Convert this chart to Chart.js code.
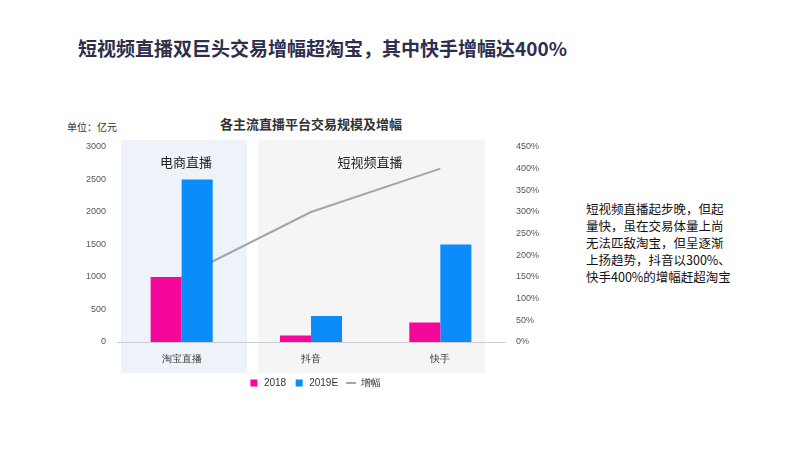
<!DOCTYPE html>
<html><head><meta charset="utf-8">
<script src="https://cdn.jsdelivr.net/npm/chart.js@4"></script>
<style>
body{margin:0;width:800px;height:450px;position:relative;font-family:"Noto Sans CJK SC",sans-serif;background:#fff;overflow:hidden}
#t{position:absolute;left:78px;top:34px;font-size:19px;font-weight:bold;color:#2e2e4d}
#unit{position:absolute;left:67px;top:119px;font-size:10px;color:#333}
#ct{position:absolute;left:220px;top:114px;font-size:13px;color:#333;font-weight:bold}
#note{position:absolute;left:586px;top:200px;width:146px;font-size:12.5px;line-height:17px;color:#111}
#w{position:absolute;left:0;top:0;width:800px;height:450px}
</style></head><body>
<div id="t">短视频直播双巨头交易增幅超淘宝，其中快手增幅达400%</div>
<div id="unit">单位：亿元</div>
<div id="ct">各主流直播平台交易规模及增幅</div>
<div id="note">短视频直播起步晚，但起量快，虽在交易体量上尚无法匹敌淘宝，但呈逐渐上扬趋势，抖音以300%、快手400%的增幅赶超淘宝</div>
<div id="w"><canvas id="c" width="800" height="450"></canvas></div>
<script>
const categories=["淘宝直播","抖音","快手"];
const v2018=[1000,100,300];
const v2019=[2500,400,1500];
const growth=[150,300,400];
const bg={id:'bg',beforeDraw(ch){const c=ch.ctx;
c.save();c.fillStyle='#eef3fa';c.fillRect(121,140,126,233);
c.fillStyle='#f5f5f5';c.fillRect(258,140,227,233);
c.fillStyle='#222';c.font='13px "Noto Sans CJK SC"';c.textAlign='center';
c.fillText('电商直播',186,162);c.fillText('短视频直播',370,162);c.restore();}};
new Chart(document.getElementById('c'),{type:'bar',
data:{labels:categories,datasets:[
{label:'2018',data:v2018,backgroundColor:'#f5079b',yAxisID:'y',order:2,pointStyle:'rect'},
{label:'2019E',data:v2019,backgroundColor:'#0a8cfa',yAxisID:'y',order:2,pointStyle:'rect'},
{label:'增幅',type:'line',data:growth,borderColor:'#a6a6a6',backgroundColor:'#a6a6a6',borderWidth:2,pointRadius:0,pointStyle:'line',yAxisID:'y1',order:3}]},
options:{responsive:false,animation:false,
layout:{padding:{left:80,right:250,top:147,bottom:52}},
datasets:{bar:{categoryPercentage:0.48,barPercentage:1}},
plugins:{legend:{position:'bottom',labels:{usePointStyle:true,boxWidth:14,boxHeight:7,font:{size:10},color:'#333',padding:8,sort:(a,b)=>a.datasetIndex-b.datasetIndex}},tooltip:{enabled:false}},
scales:{
x:{grid:{display:false},border:{display:true,color:'#ccc'},ticks:{font:{size:10},color:'#333'},afterFit(s){s.height=28}},
y:{min:0,max:3000,ticks:{stepSize:500,font:{size:9},color:'#555',callback:v=>String(v)},grid:{display:false},border:{display:false},afterFit(s){s.width=37}},
y1:{position:'right',min:0,max:450,ticks:{stepSize:50,font:{size:9},color:'#555',callback:v=>v+'%'},grid:{display:false},border:{display:false},afterFit(s){s.width=45}}}},
plugins:[bg]});
</script></body></html>
